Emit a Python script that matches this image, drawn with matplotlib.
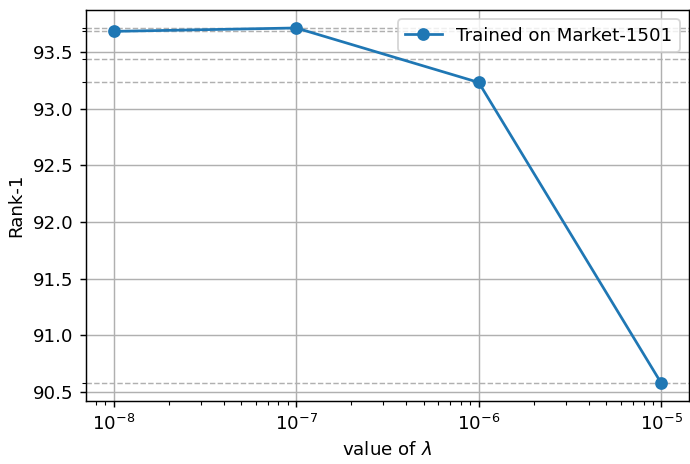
import matplotlib
matplotlib.use('Agg')
from matplotlib import pyplot as plt

lambdas = [1e-8, 1e-7, 1e-6, 1e-5]
rank1 = [93.68, 93.71, 93.23, 90.58]
# levels marked with dashed guide lines on the y axis
ref_levels = [93.71, 93.68, 93.44, 93.23, 90.58]

fig, ax = plt.subplots(figsize=(690 / 131, 464 / 131), dpi=131)
ax.plot(lambdas, rank1, marker='o', color='#1f77b4', label='Trained on Market-1501')
ax.set_xscale('log')
ax.set_yticks(ref_levels, minor=True)
ax.grid(which='major', color='#b0b0b0', linewidth=0.8)
ax.grid(which='minor', axis='y', color='#b0b0b0', linestyle='--', linewidth=0.8)
ax.set_xlabel(r'value of $\lambda$')
ax.set_ylabel('Rank-1')
ax.legend(loc='upper right')
plt.subplots_adjust(left=0.125, right=0.998, top=0.978, bottom=0.136)
plt.savefig('out.png')
